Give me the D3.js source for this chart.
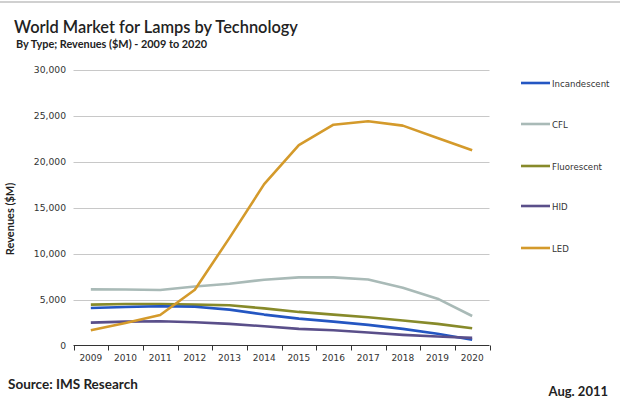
<!DOCTYPE html>
<html><head><meta charset="utf-8">
<script src="https://cdn.jsdelivr.net/npm/d3@7"></script>
<style>
html,body{margin:0;padding:0;background:#fff;}
svg{display:block;}
</style></head>
<body>
<svg id="chart" width="620" height="400"></svg>
<script>
const years = ["2009","2010","2011","2012","2013","2014","2015","2016","2017","2018","2019","2020"];
const seriesNames = ["Incandescent","CFL","Fluorescent","HID","LED"];
const incandescent = [4080,4190,4260,4220,3900,3360,2920,2600,2240,1810,1270,620];
const cfl = [6100,6080,6030,6420,6710,7150,7400,7400,7180,6280,5090,3210];
const fluorescent = [4440,4510,4500,4440,4370,4040,3650,3360,3070,2710,2350,1880];
const hid = [2490,2600,2630,2520,2350,2090,1810,1660,1410,1160,970,830];
const led = [1660,2450,3320,6060,11700,17540,21770,24000,24370,23900,22560,21230];
const yTicks = [0,5000,10000,15000,20000,25000,30000];
const colors = ["#2456c2","#a9bab7","#878a2a","#5a4f8a","#d49a2b"];

(function(){
const values = [incandescent, cfl, fluorescent, hid, led];
const svg = d3.select("#chart");
const font = "'DejaVu Sans', Verdana, sans-serif";

// top border
svg.append("rect").attr("x",0).attr("y",1).attr("width",620).attr("height",2).attr("fill","#d0d0d0");

const pL = 73.5, pR = 489.5, pT = 69.5, pB = 345.5;
const x = d3.scaleBand().domain(years).range([pL, pR]);
const y = d3.scaleLinear().domain([0,30000]).range([pB, pT]);

// gridlines
svg.append("g").selectAll("line").data(yTicks.filter(d=>d>0)).join("line")
  .attr("x1", pL).attr("x2", pR)
  .attr("y1", d=>Math.round(y(d))+0.5).attr("y2", d=>Math.round(y(d))+0.5)
  .attr("stroke","#c8c8c8").attr("stroke-width",1);

// y axis labels
svg.append("g").selectAll("text").data(yTicks).join("text")
  .attr("x", 66).attr("y", d=>y(d)+3.5)
  .attr("text-anchor","end").attr("font-family",font).attr("font-size","9.2px").attr("fill","#333")
  .text(d=>d3.format(",")(d));

// x axis
const xAxis = d3.axisBottom(x).tickSize(0).tickPadding(9);
const gx = svg.append("g").attr("transform",`translate(0,${pB})`).call(xAxis);
gx.select(".domain").attr("stroke","#333").attr("d",`M${pL},0H${pR}`);
gx.selectAll("text").attr("font-family",font).attr("font-size","9px").attr("fill","#333");
const bounds = years.map(d=>x(d)).concat([pR]);
gx.selectAll("line.bt").data(bounds).join("line").attr("class","bt")
  .attr("x1",d=>Math.round(d)+0.5).attr("x2",d=>Math.round(d)+0.5)
  .attr("y1",0).attr("y2",5).attr("stroke","#333");

// lines
const line = d3.line().x((d,i)=>x(years[i])+x.bandwidth()/2).y(d=>y(d));
const order = [1,2,0,3,4];
order.forEach(k=>{
  svg.append("path").datum(values[k]).attr("d",line)
    .attr("fill","none").attr("stroke",colors[k]).attr("stroke-width",2.6)
    .attr("stroke-linejoin","round");
});

// legend
const legY = [83,124,166,206,248];
seriesNames.forEach((n,i)=>{
  svg.append("line").attr("x1",521).attr("x2",550).attr("y1",legY[i]).attr("y2",legY[i])
    .attr("stroke",colors[i]).attr("stroke-width",2.6);
  svg.append("text").attr("x",552).attr("y",legY[i]+3.5).attr("font-family",font)
    .attr("font-size","8.6px").attr("fill","#333").text(n);
});

// titles
const tf = "Lato, 'Open Sans', sans-serif";
svg.append("text").attr("x",14).attr("y",33).attr("font-family",tf)
  .attr("font-size","16.4px").attr("font-weight","600").attr("fill","#222").text("World Market for Lamps by Technology");
svg.append("text").attr("x",16).attr("y",48).attr("font-family",tf)
  .attr("font-size","10.9px").attr("font-weight","bold").attr("fill","#222").text("By Type; Revenues ($M)  - 2009 to 2020");

// y label
svg.append("text").attr("transform","translate(14,219) rotate(-90)").attr("text-anchor","middle")
  .attr("font-family",tf).attr("font-size","11px").attr("font-weight","bold")
  .attr("fill","#222").text("Revenues ($M)");

// footer
svg.append("text").attr("x",8).attr("y",389).attr("font-family",tf)
  .attr("font-size","13.5px").attr("font-weight","bold").attr("fill","#222").text("Source: IMS Research");
svg.append("text").attr("x",608).attr("y",396).attr("text-anchor","end").attr("font-family",tf)
  .attr("font-size","13px").attr("font-weight","bold").attr("fill","#222").text("Aug. 2011");
})();
</script>
</body></html>
